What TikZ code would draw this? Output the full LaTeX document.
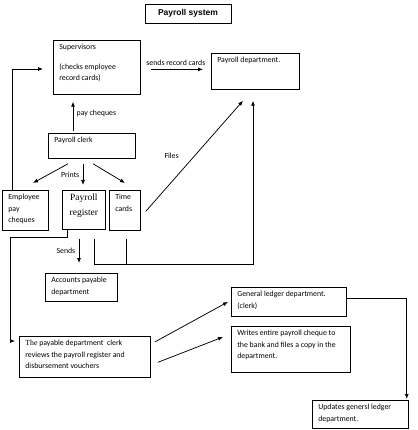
\documentclass[tikz,border=0pt]{standalone}
\usepackage{fontspec}
\setmainfont{Carlito}
\newfontfamily\regfont{Liberation Serif}
\newfontfamily\titlefont{Liberation Sans}
\usetikzlibrary{arrows.meta}
\newcommand{\bx}[3]{\parbox[c][#2][t]{#1}{\raggedright #3}}

\begin{document}
\begin{tikzpicture}[x=1pt,y=-1pt,font=\fontsize{7.8}{11.5}\selectfont,line width=0.75pt,
box/.style={draw,anchor=north west,inner xsep=6pt,inner ysep=4pt},
arr/.style={-{Latex[length=5pt,width=4pt]}}]
\useasboundingbox(0,0)rectangle(417,430);
\node[draw,minimum width=86pt,minimum height=19pt,font=\titlefont\bfseries\fontsize{8.5}{10}\selectfont](title)at(188,13.5){Payroll system};
\node[box](sup)at(53,40){\bx{75pt}{46pt}{Supervisors\\[8pt](checks employee\\record cards)}};
\node[box](pd)at(211,53){\bx{76pt}{28pt}{Payroll department.}};
\node[box](clerk)at(48,133){\bx{75pt}{17pt}{Payroll clerk}};
\node[box](emp)at(2,190){\bx{34pt}{32pt}{Employee\\pay\\cheques}};
\node[box,inner xsep=4pt](reg)at(62,190){\parbox[c][31pt][t]{35pt}{\centering\regfont\fontsize{9.5}{15}\selectfont Payroll\\register}};
\node[box](time)at(109,190){\bx{19pt}{32pt}{Time\\cards}};
\node[box](acc)at(45,273){\bx{60pt}{20pt}{Accounts payable\\department}};
\node[box](pay)at(19,336){\bx{119pt}{33pt}{{\regfont The} payable department\ \ clerk\\reviews the payroll register and\\disbursement vouchers}};
\node[box](gl)at(231,287){\bx{103pt}{21pt}{General ledger department.\\(clerk)}};
\node[box](wr)at(231,326){\bx{107pt}{38pt}{Writes entire payroll cheque to\\the bank and files a copy in the\\department.}};
\node[box](up)at(312,400){\bx{84pt}{20pt}{Updates genersl ledger\\department.}};
\draw[arr,shorten <=10pt,shorten >=8pt]([yshift=-2pt]sup.east)--([yshift=-2pt]sup.east-|pd.west)node[midway,above]{sends record cards};
\draw[arr,shorten <=2pt,shorten >=7pt]([xshift=25pt]clerk.north west)--([xshift=25pt]clerk.north west|-sup.south)node[midway,right]{pay cheques};
\foreach\s/\t/\d in{20/emp/31,45/time/16}\draw[arr]([xshift=\s pt,yshift=-5pt]clerk.south west)--([xshift=\d pt,yshift=7pt]\t.north west);
\draw[arr]([xshift=35pt,yshift=-5pt]clerk.south west)--([xshift=21pt,yshift=5pt]reg.north west)node[midway,left]{Prints};
\draw[arr]([xshift=10pt]emp.north west)|-([xshift=-10pt,yshift=-29pt]sup.north west);
\draw[arr]([xshift=5pt,yshift=-1pt]time.east)--([xshift=32pt,yshift=-11pt]pd.south west)node[midway,left=12pt]{Files};
\draw[arr]([xshift=32pt,yshift=-9pt]reg.south west)--++(0,26)-|([xshift=42pt,yshift=-11pt]pd.south west);
\draw([xshift=17pt,yshift=-8pt]time.south west)--++(0,26);
\draw[arr]([xshift=17pt,yshift=-9pt]reg.south west)--([xshift=34pt,yshift=10pt]acc.north west)node[midway,left]{Sends};
\draw[arr]([xshift=5pt]reg.south west)--++(0,8)-|([xshift=-9pt,yshift=-5pt]pay.north west)--([xshift=-4pt,yshift=-5pt]pay.north west);
\draw[arr]([xshift=4pt,yshift=-6pt]pay.north east)--([xshift=-3pt]gl.west);
\draw[arr]([xshift=7pt,yshift=-5.5pt]pay.east)--([xshift=-8pt,yshift=-11pt]wr.north west);
\draw[arr]([yshift=4pt]gl.east)-|([xshift=-2pt,yshift=1pt]up.north east);
\end{tikzpicture}
\end{document}
